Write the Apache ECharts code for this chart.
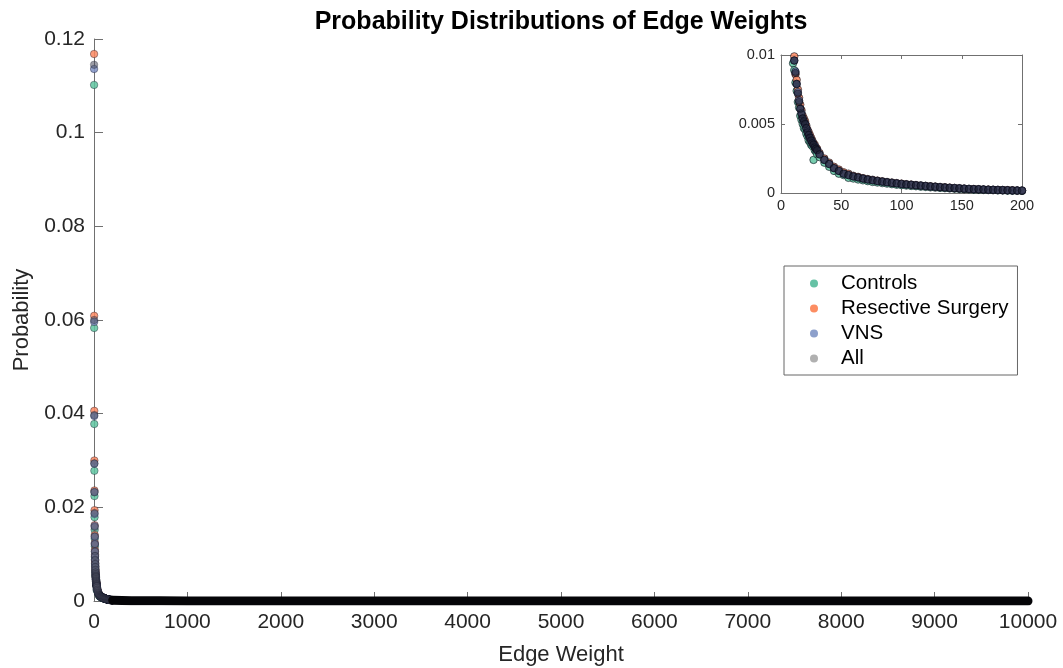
<!DOCTYPE html>
<html style="height: 100%">
<head>
<meta charset="utf-8">
<script src="https://cdn.jsdelivr.net/npm/echarts@6/dist/echarts.min.js"></script>
</head>
<body style="height: 100%; margin: 0; background: #fff">
<div id="container" style="width: 1063px; height: 668px"></div>
<script type="text/javascript">
// edge weights that are shown as separate points (1..30, then every 4 up to 200)
var weights = [1, 2, 3, 4, 5, 6, 7, 8, 9, 10, 11, 12, 13, 14, 15, 16, 17, 18, 19, 20,
  21, 22, 23, 24, 25, 26, 27, 28, 29, 30, 32, 36, 40, 44, 48, 52, 56, 60, 64, 68,
  72, 76, 80, 84, 88, 92, 96, 100, 104, 108, 112, 116, 120, 124, 128, 132, 136, 140, 144, 148,
  152, 156, 160, 164, 168, 172, 176, 180, 184, 188, 192, 196, 200];

// probabilities
var controls = [0.1102, 0.0583, 0.0378, 0.0278, 0.0224, 0.0179, 0.0152, 0.0133, 0.0117, 0.0094,
  0.0089, 0.0080, 0.0074, 0.0066, 0.0062, 0.0056, 0.0053, 0.0050, 0.0047, 0.0046,
  0.0043, 0.0041, 0.0038, 0.0037, 0.0035, 0.0034, 0.0024, 0.0031, 0.0030, 0.0028,
  0.0026, 0.0022, 0.0019, 0.0016, 0.0014, 0.0013, 0.0011, 0.00105, 0.00098, 0.00092,
  0.00086, 0.00080, 0.00076, 0.00072, 0.00068, 0.00064, 0.00060, 0.00057, 0.00054, 0.00051,
  0.00049, 0.00046, 0.00044, 0.00041, 0.00039, 0.00037, 0.00035, 0.00033, 0.00031, 0.00029,
  0.00027, 0.00026, 0.00024, 0.00023, 0.00022, 0.00021, 0.00020, 0.00019, 0.00018, 0.00017,
  0.00016, 0.00016, 0.00015];
var resective = [0.1168, 0.0609, 0.0406, 0.0300, 0.0236, 0.0194, 0.0162, 0.0141, 0.0124, 0.0109,
  0.0099, 0.0086, 0.0082, 0.0075, 0.0069, 0.0064, 0.0060, 0.0056, 0.0054, 0.0052,
  0.0049, 0.0046, 0.0044, 0.0042, 0.0040, 0.0038, 0.0036, 0.0035, 0.0033, 0.0032,
  0.0029, 0.0025, 0.0022, 0.0019, 0.0017, 0.0015, 0.0014, 0.00125, 0.00117, 0.00108,
  0.00101, 0.00096, 0.00090, 0.00085, 0.00080, 0.00076, 0.00072, 0.00068, 0.00064, 0.00061,
  0.00058, 0.00055, 0.00052, 0.00049, 0.00047, 0.00044, 0.00042, 0.00039, 0.00037, 0.00035,
  0.00032, 0.00030, 0.00029, 0.00028, 0.00026, 0.00025, 0.00024, 0.00023, 0.00022, 0.00021,
  0.00020, 0.00019, 0.00018];
var vns = [0.1136, 0.0596, 0.0395, 0.0293, 0.0233, 0.0186, 0.0160, 0.0137, 0.0122, 0.0105,
  0.0096, 0.0088, 0.0079, 0.0073, 0.0067, 0.0061, 0.0058, 0.0054, 0.0051, 0.0050,
  0.0047, 0.0045, 0.0042, 0.0040, 0.0038, 0.0037, 0.0035, 0.0034, 0.0032, 0.0031,
  0.0028, 0.0024, 0.0021, 0.0018, 0.0016, 0.0014, 0.0013, 0.0012, 0.00113, 0.00105,
  0.00098, 0.00092, 0.00087, 0.00083, 0.00078, 0.00074, 0.00070, 0.00066, 0.00062, 0.00060,
  0.00056, 0.00054, 0.00051, 0.00048, 0.00045, 0.00043, 0.00040, 0.00038, 0.00036, 0.00034,
  0.00032, 0.00030, 0.00028, 0.00027, 0.00026, 0.00024, 0.00023, 0.00022, 0.00021, 0.00020,
  0.00019, 0.00018, 0.00018];
var all = [0.1145, 0.0600, 0.0397, 0.0294, 0.0232, 0.0188, 0.0158, 0.0138, 0.0121, 0.0106,
  0.0096, 0.0087, 0.0079, 0.0072, 0.0066, 0.0061, 0.0057, 0.0054, 0.0052, 0.0050,
  0.0047, 0.0044, 0.0042, 0.0040, 0.0038, 0.0036, 0.0035, 0.0033, 0.0032, 0.0031,
  0.0028, 0.0024, 0.0021, 0.0018, 0.0016, 0.0014, 0.0013, 0.0012, 0.00112, 0.00104,
  0.00097, 0.00092, 0.00087, 0.00082, 0.00077, 0.00073, 0.00069, 0.00065, 0.00062, 0.00059,
  0.00056, 0.00053, 0.00050, 0.00047, 0.00045, 0.00042, 0.00040, 0.00037, 0.00035, 0.00033,
  0.00031, 0.00029, 0.00028, 0.00027, 0.00025, 0.00024, 0.00023, 0.00022, 0.00021, 0.00020,
  0.00019, 0.00018, 0.00017];

// long tail: thick black band along zero
var tailWeights = [200, 400, 700, 1000, 2000, 3000, 5000, 7500, 10000];
var tailProb = [0.00017, 0.00007, 0.00004, 0.00002, 0.000008, 0.000004, 0.000002, 0.000001, 0.0000005];

var groupNames = ['Controls', 'Resective Surgery', 'VNS', 'All'];
var groupColors = ['#5fc4a0', '#fa8862', '#8193c6', '#4a4d5c'];
var insetColors = ['#5fc4a0', '#fa8862', '#7a8cc2', '#1c2030'];
var legendColors = ['#66c2a5', '#fc8d62', '#8da0cb', '#b0b0b0'];

var font = "'Liberation Sans', Arial, Helvetica, sans-serif";
var axisColor = '#707070';
var labelColor = '#262626';

var dom = document.getElementById('container');
var myChart = echarts.init(dom);

function pairs(xs, ys) {
  var res = [];
  for (var i = 0; i < xs.length; i++) res.push([xs[i], ys[i]]);
  return res;
}
function plain(v) { return String(v); }

var groups = [controls, resective, vns, all];
var series = [];
// main axes
for (var g = 0; g < groups.length; g++) {
  series.push({
    name: groupNames[g], type: 'scatter', xAxisIndex: 0, yAxisIndex: 0,
    data: pairs(weights, groups[g]), symbolSize: 7.5,
    itemStyle: { color: groupColors[g], opacity: g === 3 ? 0.55 : 0.85,
      borderColor: 'rgba(10,12,30,0.55)', borderWidth: 0.8 }
  });
}
series.push({
  name: 'tail', type: 'line', xAxisIndex: 0, yAxisIndex: 0,
  data: pairs(tailWeights, tailProb), showSymbol: false, symbol: 'none',
  lineStyle: { color: '#050508', width: 9, cap: 'round', join: 'round' }
});
// inset
for (var g = 0; g < groups.length; g++) {
  series.push({
    name: groupNames[g], type: 'scatter', xAxisIndex: 1, yAxisIndex: 1,
    data: pairs(weights, groups[g]), symbolSize: 7.5, clip: true,
    itemStyle: { color: insetColors[g], opacity: g === 3 ? 0.7 : 0.85,
      borderColor: 'rgba(5,6,20,0.7)', borderWidth: 1 }
  });
}

var legendData = [];
for (var g = 0; g < groupNames.length; g++) {
  legendData.push({ name: groupNames[g], itemStyle: { color: legendColors[g], opacity: 1, borderWidth: 0 } });
}

var option = {
  backgroundColor: '#ffffff',
  animation: false,
  textStyle: { fontFamily: font },
  title: {
    text: 'Probability Distributions of Edge Weights',
    left: 561, top: 10, padding: 0, textAlign: 'center',
    textStyle: { fontSize: 25, fontWeight: 'bold', color: '#000', fontFamily: font }
  },
  legend: {
    data: legendData, orient: 'vertical', left: 784, top: 266,
    padding: [7, 9, 6, 26], itemGap: 4, itemWidth: 8, itemHeight: 8,
    borderColor: '#666', borderWidth: 1, backgroundColor: '#fff',
    textStyle: { fontSize: 20.5, color: '#000', fontFamily: font, padding: [0, 0, 0, 18] }
  },
  grid: [
    { left: 94, right: 35, top: 39, bottom: 67, outerBoundsMode: 'none' },
    { left: 781, top: 55, width: 241, height: 138, outerBoundsMode: 'none' }
  ],
  xAxis: [
    { gridIndex: 0, type: 'value', min: 0, max: 10000, interval: 1000,
      name: 'Edge Weight', nameLocation: 'middle', nameGap: 43,
      nameTextStyle: { fontSize: 22, color: labelColor, fontFamily: font },
      axisLine: { onZero: false, lineStyle: { color: axisColor } },
      axisTick: { inside: true, length: 9, lineStyle: { color: axisColor } },
      axisLabel: { fontSize: 21, color: labelColor, margin: 11, formatter: plain, fontFamily: font },
      splitLine: { show: false } },
    { gridIndex: 1, type: 'value', min: 0, max: 200, interval: 50,
      axisLine: { onZero: false, lineStyle: { color: axisColor } },
      axisTick: { inside: true, length: 4, lineStyle: { color: axisColor } },
      axisLabel: { fontSize: 14.5, color: labelColor, margin: 5, formatter: plain, fontFamily: font },
      splitLine: { show: false } },
    { gridIndex: 1, type: 'value', position: 'top', min: 0, max: 200, interval: 50,
      axisLine: { onZero: false, lineStyle: { color: axisColor } },
      axisTick: { inside: true, length: 4, lineStyle: { color: axisColor } },
      axisLabel: { show: false }, splitLine: { show: false } }
  ],
  yAxis: [
    { gridIndex: 0, type: 'value', min: 0, max: 0.12, interval: 0.02,
      name: 'Probability', nameLocation: 'middle', nameGap: 58,
      nameTextStyle: { fontSize: 22, color: labelColor, fontFamily: font },
      axisLine: { show: true, onZero: false, lineStyle: { color: axisColor } },
      axisTick: { show: true, inside: true, length: 9, lineStyle: { color: axisColor } },
      axisLabel: { fontSize: 21, color: labelColor, margin: 9, formatter: plain, fontFamily: font },
      splitLine: { show: false } },
    { gridIndex: 1, type: 'value', min: 0, max: 0.01, interval: 0.005,
      axisLine: { show: true, onZero: false, lineStyle: { color: axisColor } },
      axisTick: { show: true, inside: true, length: 4, lineStyle: { color: axisColor } },
      axisLabel: { fontSize: 14.5, color: labelColor, margin: 6, formatter: plain, fontFamily: font },
      splitLine: { show: false } },
    { gridIndex: 1, type: 'value', position: 'right', min: 0, max: 0.01, interval: 0.005,
      axisLine: { show: true, onZero: false, lineStyle: { color: axisColor } },
      axisTick: { show: true, inside: true, length: 4, lineStyle: { color: axisColor } },
      axisLabel: { show: false }, splitLine: { show: false } }
  ],
  series: series
};

myChart.setOption(option, true);
</script>
</body>
</html>
